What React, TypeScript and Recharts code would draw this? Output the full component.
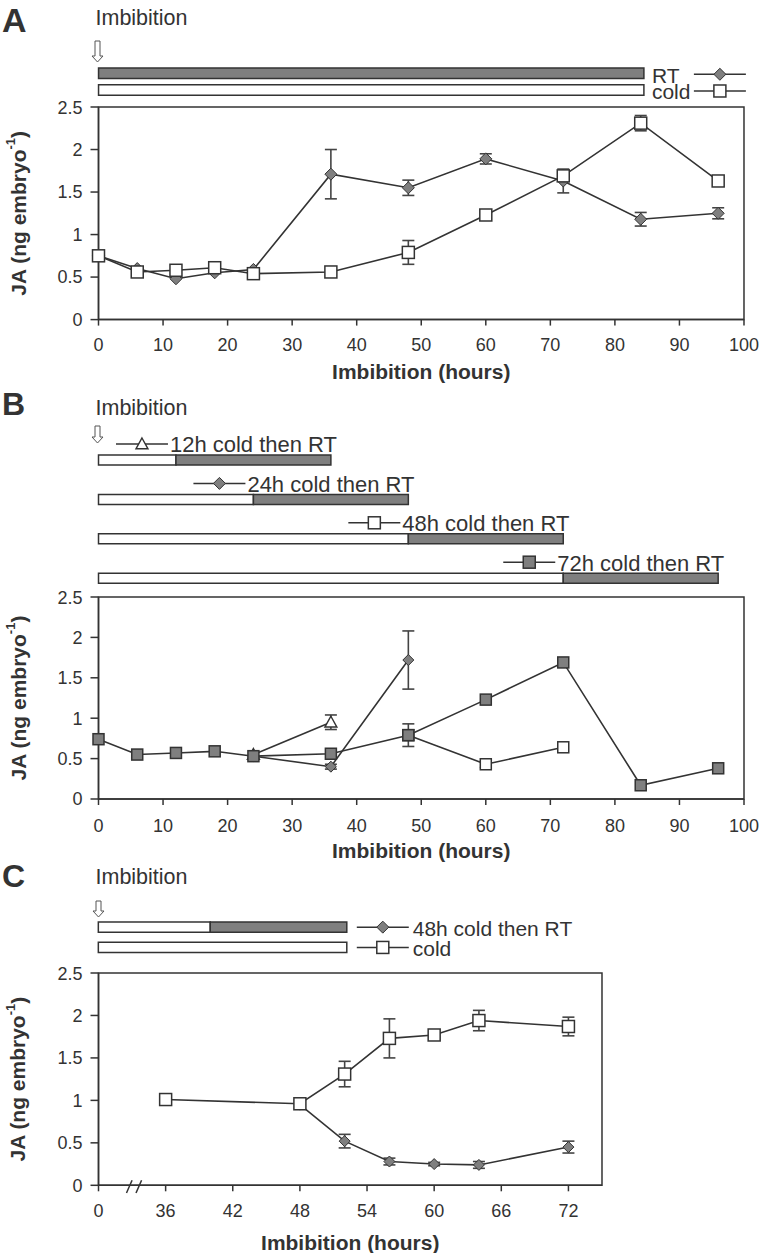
import React from 'react'
import {
  LineChart, Line, XAxis, YAxis, ErrorBar, ReferenceArea, ReferenceLine,
  BarChart, Bar, LabelList, Cell,
} from 'recharts'

const FONT = "'Liberation Sans', Arial, Helvetica, sans-serif"
const INK = '#333333'
const GREY = '#7f7f7f'

// ---- A: constant RT vs constant cold ----
const hoursA = [0, 6, 12, 18, 24, 36, 48, 60, 72, 84, 96]
const jaRtA = [0.75, 0.6, 0.48, 0.55, 0.59, 1.71, 1.55, 1.89, 1.63, 1.18, 1.25]
const errRtA = [0, 0, 0, 0, 0, 0.29, 0.09, 0.06, 0.14, 0.08, 0.065]
const jaColdA = [0.75, 0.56, 0.58, 0.61, 0.54, 0.56, 0.79, 1.23, 1.69, 2.31, 1.63]
const errColdA = [0, 0, 0, 0, 0, 0, 0.14, 0, 0, 0.09, 0]
const phaseLabelsA = ['RT', 'cold']
const phaseEndA = [84.5, 84.5]

// ---- B: cold then shifted to RT ----
const hoursB72 = [0, 6, 12, 18, 24, 36, 48, 60, 72, 84, 96]
const jaB72 = [0.74, 0.55, 0.57, 0.59, 0.53, 0.56, 0.79, 1.23, 1.69, 0.17, 0.38]
const errB72 = [0, 0, 0, 0, 0, 0, 0.14, 0, 0, 0, 0]
const hoursB12 = [24, 36]
const jaB12 = [0.55, 0.95]
const errB12 = [0, 0.09]
const hoursB24 = [24, 36, 48]
const jaB24 = [0.53, 0.4, 1.72]
const errB24 = [0, 0.03, 0.36]
const hoursB48 = [48, 60, 72]
const jaB48 = [0.79, 0.43, 0.64]
const errB48 = [0, 0.04, 0]
const stepLabels = ['12h cold then RT', '24h cold then RT', '48h cold then RT', '72h cold then RT']
const stepCold = [12, 24, 48, 72]
const stepRt = [24, 24, 24, 24]

// ---- C: 48h cold then RT vs cold (0 = start, axis broken) ----
const hoursCcold = [36, 48, 52, 56, 60, 64, 72]
const jaCcold = [1.01, 0.96, 1.31, 1.73, 1.77, 1.94, 1.87]
const errCcold = [0, 0.05, 0.15, 0.23, 0.03, 0.12, 0.11]
const hoursC48 = [48, 52, 56, 60, 64, 72]
const jaC48 = [0.95, 0.52, 0.28, 0.25, 0.24, 0.45]
const errC48 = [0.05, 0.08, 0.04, 0.02, 0.04, 0.07]
const phaseLabelsC = ['48h cold then RT', 'cold']
const phaseColdC = [10, 22.2]
const phaseRtC = [12.2, 0]

const ticksAB = [0, 10, 20, 30, 40, 50, 60, 70, 80, 90, 100]
const ticksC = [30, 36, 42, 48, 54, 60, 66, 72]
const ticksY = [0, 0.5, 1, 1.5, 2, 2.5]

type Kind = 'diamond' | 'openSquare' | 'greySquare' | 'triangle'
const STEP_MARKERS: Kind[] = ['triangle', 'diamond', 'openSquare', 'greySquare']

const rows = (hs: number[], vs: number[], es: number[]) => hs.map((h, i) => ({ h, v: vs[i], e: es[i] }))

function Marker({ kind, cx, cy, size = 12 }: { kind: Kind; cx: number; cy: number; size?: number }) {
  const h = size / 2
  if (kind === 'diamond') {
    return <path d={`M${cx},${cy - h}L${cx + h},${cy}L${cx},${cy + h}L${cx - h},${cy}Z`} fill={GREY} stroke={INK} strokeWidth={1} />
  }
  if (kind === 'triangle') {
    return <path d={`M${cx},${cy - h}L${cx + h},${cy + h * 0.8}L${cx - h},${cy + h * 0.8}Z`} fill="#fff" stroke={INK} strokeWidth={1.4} />
  }
  return (
    <rect x={cx - h} y={cy - h} width={size} height={size}
      fill={kind === 'greySquare' ? GREY : '#fff'} stroke={INK} strokeWidth={1.5} />
  )
}

const dotOf = (kind: Kind, size?: number) => (p: any) =>
  p.cx == null ? <g key={p.index} /> : <Marker key={p.index} kind={kind} cx={p.cx} cy={p.cy} size={size} />

function LegendSymbol({ kind, cx, cy }: { kind: Kind; cx: number; cy: number }) {
  return (
    <g>
      <line x1={cx - 26} x2={cx + 26} y1={cy} y2={cy} stroke={INK} strokeWidth={1.5} />
      <Marker kind={kind} cx={cx} cy={cy} size={12} />
    </g>
  )
}

const xTitle = (dy: number) => (props: any) => {
  const vb = props.viewBox
  return (
    <text x={vb.x + vb.width / 2} y={vb.y + dy} textAnchor="middle" dominantBaseline="central"
      fontSize={21} fontWeight="bold" fill={INK} fontFamily={FONT}>Imbibition (hours)</text>
  )
}

const yTitle = (props: any) => {
  const vb = props.viewBox
  const cy = vb.y + vb.height / 2
  return (
    <text x={18} y={cy} transform={`rotate(-90, 18, ${cy})`} textAnchor="middle" dominantBaseline="central"
      fontSize={21} fontWeight="bold" fill={INK} fontFamily={FONT}>
      JA (ng embryo<tspan dy={-8} fontSize={13}>-1</tspan><tspan dy={8}>)</tspan>
    </text>
  )
}

const tickStyle = { fontSize: 18, fill: INK, fontFamily: FONT }

function yAxisJA() {
  return (
    <YAxis type="number" domain={[0, 2.5]} ticks={ticksY} width={98.5} tickSize={8} tickMargin={8}
      axisLine={{ stroke: INK, strokeWidth: 1.5 }} tickLine={{ stroke: INK, strokeWidth: 1.5 }}
      tick={tickStyle} label={{ content: yTitle }} />
  )
}

function Arrow({ cx, y0, y1 }: { cx: number; y0: number; y1: number }) {
  const d = `M${cx - 2.5},${y0}L${cx + 2.5},${y0}L${cx + 2.5},${y1 - 6}L${cx + 5.5},${y1 - 6}L${cx},${y1}L${cx - 5.5},${y1 - 6}L${cx - 2.5},${y1 - 6}Z`
  return <path d={d} fill="#fff" stroke="#555" strokeWidth={1} />
}

function Headings() {
  return (
    <svg width={760} height={1257} style={{ position: 'absolute', left: 0, top: 0, pointerEvents: 'none' }}>
      <g fontFamily={FONT} fill={INK}>
        <text x={2} y={32} fontSize={34} fontWeight="bold">A</text>
        <text x={95.5} y={25} fontSize={21.5}>Imbibition</text>
        <text x={2} y={415} fontSize={32} fontWeight="bold">B</text>
        <text x={95.5} y={415} fontSize={21.5}>Imbibition</text>
        <text x={2} y={887} fontSize={32} fontWeight="bold">C</text>
        <text x={95.5} y={884} fontSize={21.5}>Imbibition</text>
      </g>
      <Arrow cx={97.5} y0={41} y1={62} />
      <Arrow cx={97.5} y0={426} y1={443} />
      <Arrow cx={98.5} y0={901} y1={917} />
    </svg>
  )
}

const barStroke = { stroke: INK, strokeWidth: 1.5 }

function TimelineA() {
  const data = phaseLabelsA.map((label, i) => ({ label, end: phaseEndA[i] }))
  const fills = [GREY, '#fff']
  const kinds: Kind[] = ['diamond', 'openSquare']
  const legend = (p: any) => {
    const i = phaseLabelsA.indexOf(p.value)
    const end = p.x + p.width
    const cy = p.y + p.height / 2
    return (
      <g key={p.value}>
        <text x={end + 8} y={cy + 2} dominantBaseline="central" fontSize={21} fill={INK} fontFamily={FONT}>{p.value}</text>
        <LegendSymbol kind={kinds[i]} cx={end + 76} cy={cy + 1} />
      </g>
    )
  }
  return (
    <div style={{ position: 'absolute', left: 0, top: 54.6 }}>
      <BarChart layout="vertical" width={760} height={53.4} data={data}
        margin={{ top: 10, right: 16, bottom: 10, left: 98.5 }}>
        <XAxis type="number" domain={[0, 100]} hide />
        <YAxis type="category" dataKey="label" hide />
        <Bar dataKey="end" barSize={10.6} {...barStroke} isAnimationActive={false}>
          {data.map((d, i) => <Cell key={d.label} fill={fills[i]} />)}
          <LabelList dataKey="label" content={legend} />
        </Bar>
      </BarChart>
    </div>
  )
}

function TimelineB() {
  const data = stepLabels.map((label, i) => ({ label, cold: stepCold[i], rt: stepRt[i] }))
  const legend = (p: any) => {
    const i = stepLabels.indexOf(p.value)
    const tx = p.x + p.width - 6
    const cy = p.y + p.height / 2 - 16
    return (
      <g key={p.value}>
        <LegendSymbol kind={STEP_MARKERS[i]} cx={tx - 28} cy={cy} />
        <text x={tx} y={cy + 1} dominantBaseline="central" fontSize={22} fill={INK} fontFamily={FONT}>{p.value}</text>
      </g>
    )
  }
  return (
    <div style={{ position: 'absolute', left: 0, top: 414.8 }}>
      <BarChart layout="vertical" width={760} height={192.6} data={data}
        margin={{ top: 25, right: 16, bottom: 10, left: 98.5 }}>
        <XAxis type="number" domain={[0, 100]} hide />
        <YAxis type="category" dataKey="label" hide />
        <Bar dataKey="cold" stackId="t" barSize={10} fill="#fff" {...barStroke} isAnimationActive={false}>
          <LabelList dataKey="label" content={legend} />
        </Bar>
        <Bar dataKey="rt" stackId="t" barSize={10} fill={GREY} {...barStroke} isAnimationActive={false} />
      </BarChart>
    </div>
  )
}

function TimelineC() {
  const data = phaseLabelsC.map((label, i) => ({ label, cold: phaseColdC[i], rt: phaseRtC[i] }))
  const kinds: Kind[] = ['diamond', 'openSquare']
  const legend = (p: any) => {
    const i = phaseLabelsC.indexOf(p.value)
    const end = p.x + p.width * (phaseColdC[i] + phaseRtC[i]) / phaseColdC[i]
    const cy = p.y + p.height / 2
    return (
      <g key={p.value}>
        <LegendSymbol kind={kinds[i]} cx={end + 36} cy={cy} />
        <text x={end + 66} y={cy + 1} dominantBaseline="central" fontSize={21} fill={INK} fontFamily={FONT}>{p.value}</text>
      </g>
    )
  }
  return (
    <div style={{ position: 'absolute', left: 0, top: 906.5 }}>
      <BarChart layout="vertical" width={760} height={60.6} data={data}
        margin={{ top: 10, right: 158, bottom: 10, left: 98.3 }}>
        <XAxis type="number" domain={[0, 45]} hide />
        <YAxis type="category" dataKey="label" hide />
        <Bar dataKey="cold" stackId="t" barSize={10.3} fill="#fff" {...barStroke} isAnimationActive={false}>
          <LabelList dataKey="label" content={legend} />
        </Bar>
        <Bar dataKey="rt" stackId="t" barSize={10.3} fill={GREY} {...barStroke} isAnimationActive={false} />
      </BarChart>
    </div>
  )
}

const lineStyle = { stroke: INK, strokeWidth: 1.6 }
const errStyle = { stroke: '#444', strokeWidth: 1.6 }

export default function App() {
  return (
    <div style={{ position: 'absolute', left: 0, top: 0, width: 760, height: 1257, overflow: 'hidden', background: '#fff', fontFamily: FONT }}>
      <Headings />
      <TimelineA />
      <TimelineB />
      <TimelineC />

      {/* A */}
      <div style={{ position: 'absolute', left: 0, top: 96.7 }}>
        <LineChart width={760} height={292.6} margin={{ top: 10, right: 16, bottom: 0, left: 0 }}>
          <XAxis type="number" dataKey="h" domain={[0, 100]} ticks={ticksAB} height={70} tickSize={6} tickMargin={13}
            axisLine={{ stroke: INK, strokeWidth: 1.5 }} tickLine={{ stroke: INK, strokeWidth: 1.5 }}
            tick={tickStyle} label={{ content: xTitle(51.7) }} />
          {yAxisJA()}
          <ReferenceArea x1={0} x2={100} y1={0} y2={2.5} fill="none" stroke={INK} strokeWidth={1.5} ifOverflow="visible" />
          <Line data={rows(hoursA, jaRtA, errRtA)} dataKey="v" {...lineStyle} dot={dotOf('diamond', 12)} isAnimationActive={false}>
            <ErrorBar dataKey="e" width={6} direction="y" {...errStyle} />
          </Line>
          <Line data={rows(hoursA, jaColdA, errColdA)} dataKey="v" {...lineStyle} dot={dotOf('openSquare', 12)} isAnimationActive={false}>
            <ErrorBar dataKey="e" width={6} direction="y" {...errStyle} />
          </Line>
        </LineChart>
      </div>

      {/* B */}
      <div style={{ position: 'absolute', left: 0, top: 587.3 }}>
        <LineChart width={760} height={282} margin={{ top: 10, right: 16, bottom: 0, left: 0 }}>
          <XAxis type="number" dataKey="h" domain={[0, 100]} ticks={ticksAB} height={70} tickSize={6} tickMargin={14}
            axisLine={{ stroke: INK, strokeWidth: 1.5 }} tickLine={{ stroke: INK, strokeWidth: 1.5 }}
            tick={tickStyle} label={{ content: xTitle(51.7) }} />
          {yAxisJA()}
          <ReferenceArea x1={0} x2={100} y1={0} y2={2.5} fill="none" stroke={INK} strokeWidth={1.5} ifOverflow="visible" />
          <Line data={rows(hoursB12, jaB12, errB12)} dataKey="v" {...lineStyle} dot={dotOf('triangle', 12)} isAnimationActive={false}>
            <ErrorBar dataKey="e" width={6} direction="y" {...errStyle} />
          </Line>
          <Line data={rows(hoursB24, jaB24, errB24)} dataKey="v" {...lineStyle} dot={dotOf('diamond', 11)} isAnimationActive={false}>
            <ErrorBar dataKey="e" width={6} direction="y" {...errStyle} />
          </Line>
          <Line data={rows(hoursB48, jaB48, errB48)} dataKey="v" {...lineStyle} dot={dotOf('openSquare', 11)} isAnimationActive={false}>
            <ErrorBar dataKey="e" width={6} direction="y" {...errStyle} />
          </Line>
          <Line data={rows(hoursB72, jaB72, errB72)} dataKey="v" {...lineStyle} dot={dotOf('greySquare', 11)} isAnimationActive={false}>
            <ErrorBar dataKey="e" width={6} direction="y" {...errStyle} />
          </Line>
        </LineChart>
      </div>

      {/* C */}
      <div style={{ position: 'absolute', left: 0, top: 963 }}>
        <LineChart width={760} height={290.3} margin={{ top: 10, right: 158, bottom: 0, left: 0 }}>
          <XAxis type="number" dataKey="h" domain={[30, 75]} ticks={ticksC} height={68} tickSize={6} tickMargin={13}
            tickFormatter={(v: number) => (v === 30 ? '0' : String(v))}
            axisLine={{ stroke: INK, strokeWidth: 1.5 }} tickLine={{ stroke: INK, strokeWidth: 1.5 }}
            tick={tickStyle} label={{ content: xTitle(57.2) }} />
          {yAxisJA()}
          <ReferenceArea x1={30} x2={75} y1={0} y2={2.5} fill="none" stroke={INK} strokeWidth={1.5} ifOverflow="visible" />
          <ReferenceLine segment={[{ x: 32.5, y: -0.09 }, { x: 33, y: 0.06 }]} stroke={INK} strokeWidth={1.5} ifOverflow="visible" />
          <ReferenceLine segment={[{ x: 33.35, y: -0.09 }, { x: 33.85, y: 0.06 }]} stroke={INK} strokeWidth={1.5} ifOverflow="visible" />
          <Line data={rows(hoursC48, jaC48, errC48)} dataKey="v" {...lineStyle} dot={dotOf('diamond', 11)} isAnimationActive={false}>
            <ErrorBar dataKey="e" width={6} direction="y" {...errStyle} />
          </Line>
          <Line data={rows(hoursCcold, jaCcold, errCcold)} dataKey="v" {...lineStyle} dot={dotOf('openSquare', 12)} isAnimationActive={false}>
            <ErrorBar dataKey="e" width={6} direction="y" {...errStyle} />
          </Line>
        </LineChart>
      </div>
    </div>
  )
}
